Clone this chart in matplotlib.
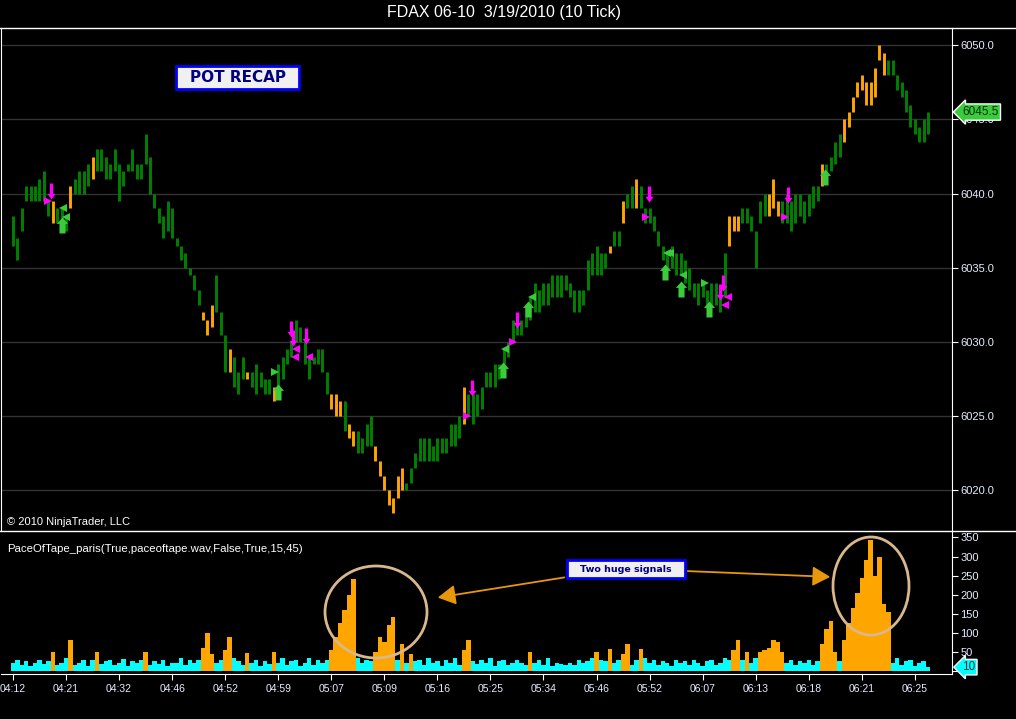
import numpy as np
import matplotlib
matplotlib.use('Agg')
import matplotlib.pyplot as plt
import matplotlib.transforms as mtransforms
from matplotlib.path import Path
from matplotlib.patches import Ellipse, Rectangle, FancyArrowPatch
from matplotlib.lines import Line2D

plt.rcParams['font.family'] = ['Liberation Sans', 'DejaVu Sans']

# ---- data: 10 tick bars ----
time_labels = ['04:12', '04:21', '04:32', '04:46', '04:52', '04:59', '05:07', '05:09', '05:16',
               '05:25', '05:34', '05:46', '05:52', '06:07', '06:13', '06:18', '06:21', '06:25']

low = [6036.5, 6035.5, 6037.5, 6039.5, 6039.5, 6039.5, 6039.5, 6039.5, 6038.5, 6038,
       6038, 6038, 6037.5, 6039, 6040, 6040, 6040, 6040.5, 6041, 6041.5,
       6041.5, 6041, 6041, 6041.5, 6039.5, 6040.5, 6041.5, 6041.5, 6041, 6041,
       6042, 6040, 6039, 6038, 6037, 6037.5, 6037, 6036.5, 6035.5, 6035,
       6034.5, 6033.5, 6032.5, 6031.5, 6030.5, 6031, 6032, 6030.5, 6028, 6028,
       6027, 6026.5, 6027.5, 6027.5, 6027, 6026.5, 6027, 6026.5, 6026.5, 6026,
       6027, 6027.5, 6028.5, 6029, 6030, 6030, 6028.5, 6027.5, 6028.5, 6028.5,
       6028, 6026.5, 6025.5, 6025, 6025, 6024, 6023.5, 6023, 6022.5, 6022.5,
       6023, 6023, 6022, 6021, 6020, 6019, 6018.5, 6019.5, 6020, 6020,
       6020.5, 6021.5, 6022, 6022, 6022, 6022, 6022, 6022.5, 6022.5, 6023,
       6023, 6023.5, 6024.5, 6025, 6024.5, 6025, 6025.5, 6027, 6027, 6027,
       6027.5, 6028.5, 6029, 6030, 6030.5, 6030.5, 6031, 6031.5, 6032, 6032,
       6032.5, 6032.5, 6033, 6033, 6033, 6033.5, 6033, 6032, 6032, 6032.5,
       6033.5, 6034.5, 6034.5, 6034.5, 6035, 6036, 6036.5, 6036.5, 6038, 6039,
       6039, 6039, 6039, 6038, 6038, 6037.5, 6036.5, 6035.5, 6035, 6035,
       6034.5, 6034.5, 6034, 6033.5, 6033, 6032.5, 6033, 6032.5, 6032.5, 6032.5,
       6032, 6033, 6036.5, 6037.5, 6037.5, 6038, 6038, 6037.5, 6035, 6038,
       6038.5, 6038.5, 6039, 6038.5, 6038, 6038, 6037.5, 6038, 6038.5, 6038,
       6038.5, 6039, 6039.5, 6040.5, 6041, 6041.5, 6042, 6042.5, 6043.5, 6044.5,
       6045.5, 6046.5, 6047, 6046, 6046, 6046.5, 6049, 6048, 6048, 6048,
       6047, 6046.5, 6045.5, 6044.5, 6044, 6043.5, 6043.5, 6044]

high = [6038.5, 6037, 6039, 6040.5, 6040.5, 6040.5, 6041, 6041.5, 6039.5, 6039.5,
        6039, 6039, 6038.5, 6040.5, 6041, 6041.5, 6041.5, 6042, 6042.5, 6043,
        6043, 6042.5, 6042, 6043, 6042, 6041.5, 6042, 6043, 6042, 6042,
        6044, 6042.5, 6040, 6039, 6038.5, 6039.5, 6039, 6037, 6036.5, 6036,
        6035, 6034.5, 6033.5, 6032, 6031.5, 6032.5, 6034.5, 6032, 6030.5, 6029.5,
        6029, 6028, 6029, 6028, 6028, 6028.5, 6028, 6027.5, 6027.5, 6027,
        6028.5, 6029, 6029.5, 6030, 6031.5, 6031, 6030, 6029, 6029, 6029.5,
        6029.5, 6028, 6026.5, 6026.5, 6026, 6026, 6024.5, 6024, 6024, 6023.5,
        6024.5, 6025, 6023, 6022, 6021, 6020, 6019.5, 6021, 6021.5, 6020.5,
        6021.5, 6022.5, 6023.5, 6023.5, 6023.5, 6023, 6023.5, 6023.5, 6023.5, 6024.5,
        6024.5, 6025, 6027, 6026.5, 6026.5, 6026.5, 6027, 6028, 6028, 6028.5,
        6028.5, 6029.5, 6030, 6031.5, 6031.5, 6031.5, 6032.5, 6033, 6034, 6033.5,
        6034, 6034, 6034.5, 6034.5, 6034.5, 6034.5, 6034, 6033.5, 6033.5, 6033.5,
        6035.5, 6036, 6036.5, 6036, 6036, 6036.5, 6037.5, 6037.5, 6039.5, 6040,
        6040.5, 6041, 6040.5, 6039, 6039, 6038.5, 6037.5, 6036.5, 6036, 6036.5,
        6036, 6036, 6035.5, 6035, 6034, 6034, 6034, 6033.5, 6034, 6034,
        6033.5, 6036, 6038.5, 6038.5, 6038.5, 6039, 6039, 6038.5, 6037.5, 6039.5,
        6040, 6040, 6041, 6039.5, 6039.5, 6040, 6039.5, 6040, 6040, 6039.5,
        6040, 6040.5, 6040.5, 6042, 6042, 6042.5, 6043.5, 6044, 6045, 6045.5,
        6046.5, 6047.5, 6048, 6047.5, 6047.5, 6048.5, 6050, 6049.5, 6049, 6049,
        6048, 6047.5, 6047, 6046, 6045, 6044.5, 6045, 6045.5]

# bars painted orange (pace of tape active)
orange_bars = [9, 13, 18, 43, 44, 45, 49, 53, 59, 72, 73, 74, 76, 77, 82, 83, 84, 85, 86, 87, 88,
               102, 135, 138, 141, 162, 163, 164, 171, 172, 173, 183,
               188, 189, 190, 191, 192, 193, 194, 195, 196, 197]

last_price = 6045.5

# PaceOfTape indicator
pace = [20, 30, 15, 25, 12, 20, 30, 18, 25, 50,
        15, 22, 35, 80, 15, 20, 28, 12, 30, 50,
        18, 25, 30, 15, 20, 32, 12, 25, 20, 30,
        50, 15, 25, 18, 30, 12, 22, 20, 35, 15,
        28, 20, 30, 60, 100, 45, 20, 30, 55, 90,
        35, 25, 15, 48, 20, 30, 12, 25, 18, 50,
        20, 35, 15, 25, 30, 12, 20, 35, 15, 28,
        20, 30, 55, 90, 125, 160, 200, 240, 35, 20,
        30, 25, 50, 90, 75, 120, 142, 30, 70, 20,
        45, 25, 30, 15, 35, 20, 25, 12, 30, 20,
        35, 15, 55, 80, 25, 18, 30, 20, 35, 12,
        25, 30, 15, 20, 30, 22, 15, 50, 20, 30,
        15, 35, 12, 20, 18, 15, 22, 15, 30, 20,
        25, 35, 50, 30, 25, 58, 20, 30, 45, 70,
        15, 30, 58, 35, 20, 30, 15, 25, 20, 12,
        30, 20, 25, 15, 28, 20, 12, 25, 30, 15,
        22, 35, 30, 55, 80, 30, 50, 20, 35, 50,
        55, 60, 80, 75, 50, 20, 30, 15, 25, 20,
        30, 15, 25, 70, 110, 130, 50, 25, 80, 125,
        165, 205, 245, 290, 343, 250, 300, 175, 155, 20,
        35, 15, 25, 30, 12, 20, 25, 10]
pace_threshold = 45
last_pace = 10

# signal markers (bar index, price)
pink_down = [(8.6, 6040.2), (63.0, 6030.9), (63.3, 6030.3), (66.3, 6030.4), (103.8, 6026.9),
             (114.0, 6031.5), (143.9, 6040.0), (160.0, 6033.4), (160.6, 6034.0), (175.3, 6039.9)]
pink_right = [(7.9, 6039.5), (102.7, 6025.0), (113.1, 6030.0), (143.2, 6038.4), (174.7, 6038.4)]
pink_left = [(64.0, 6029.5), (63.8, 6029.0), (67.0, 6029.0), (161.1, 6032.5), (161.8, 6033.0)]
green_up = [(11.1, 6037.9), (59.9, 6026.6), (110.9, 6028.1), (116.5, 6032.2),
            (147.5, 6034.7), (151.1, 6033.6), (157.5, 6032.2), (183.7, 6041.1)]
green_left = [(11.3, 6039.0), (12.0, 6038.4), (111.3, 6029.5), (117.4, 6033.0),
              (148.0, 6036.0), (148.6, 6036.0), (151.6, 6034.5)]
green_right = [(59.3, 6028.0), (156.6, 6034.0)]

# ---- figure ----
W, H = 1016, 719
GREEN = '#008000'
ORANGE = '#FFA500'
CYAN = '#00FFFF'
PINK = '#FF00FF'
LIME = '#3CCB3C'
LABEL = '#E4EEFF'


def fx(px):
    return px / W


def fy(py):
    return 1 - py / H


fig = plt.figure(figsize=(W / 100, H / 100), dpi=100, facecolor='black')
ax = fig.add_axes([fx(1), fy(531), fx(952) - fx(1), fy(27.5) - fy(531)])
ax2 = fig.add_axes([fx(1), fy(674), fx(952) - fx(1), fy(531) - fy(674)], sharex=ax)

for a in (ax, ax2):
    a.set_facecolor('black')
    for s in a.spines.values():
        s.set_visible(False)
    a.spines['right'].set_visible(True)
    a.spines['right'].set_color('white')
ax.spines['left'].set_visible(True)
ax.spines['left'].set_color('white')
ax2.spines['bottom'].set_visible(True)
ax2.spines['bottom'].set_color('white')

xs = np.arange(len(low))
bar_cols = [ORANGE if i in orange_bars else GREEN for i in xs]
ax.vlines(xs, low, high, colors=bar_cols, lw=2.1)

# custom block arrows
down_arrow = Path([(-0.2, 1), (0.2, 1), (0.2, -0.3), (0.5, -0.3), (0, -1), (-0.5, -0.3),
                   (-0.2, -0.3), (-0.2, 1)], closed=True)
up_arrow = Path([(-0.38, -1), (0.38, -1), (0.38, 0.2), (0.7, 0.2), (0, 1), (-0.7, 0.2),
                 (-0.38, 0.2), (-0.38, -1)], closed=True)


def put(points, marker, color, size):
    px = [p[0] for p in points]
    py = [p[1] for p in points]
    ax.plot(px, py, ls='none', marker=marker, color=color, markersize=size,
            markeredgewidth=0, zorder=5)


put(pink_down, down_arrow, PINK, 11.5)
put(pink_right, '>', PINK, 6)
put(pink_left, '<', PINK, 6)
put(green_up, up_arrow, LIME, 11.5)
put(green_left, '<', LIME, 6)
put(green_right, '>', LIME, 6)

ax.set_xlim(-2.7, 212.4)
ax.set_ylim(6017.26, 6051.2)
ax.yaxis.tick_right()
ax.set_yticks(np.arange(6020, 6051, 5))
ax.set_yticklabels([f'{v:.1f}' for v in np.arange(6020, 6051, 5)])
ax.tick_params(axis='y', colors='white', labelcolor=LABEL, labelsize=8, length=4, pad=2)
ax.tick_params(axis='x', bottom=False, labelbottom=False)
ax.grid(axis='y', color='#333333', lw=1)
ax.set_axisbelow(True)

# indicator panel
pace_cols = [ORANGE if v >= pace_threshold else CYAN for v in pace]
ax2.bar(xs, pace, width=1.0, color=pace_cols, linewidth=0)
ax2.set_ylim(-8, 367)
ax2.yaxis.tick_right()
ax2.set_yticks(np.arange(0, 351, 50))
ax2.tick_params(axis='y', colors='white', labelcolor=LABEL, labelsize=8, length=4, pad=2)
ax2.set_xticks(np.arange(0, 12 * len(time_labels), 12))
ax2.set_xticklabels(time_labels)
ax2.tick_params(axis='x', colors='white', labelcolor=LABEL, labelsize=7.5, length=4, pad=3)

# frame lines across whole width
fig.add_artist(Line2D([0, 1], [fy(27.5), fy(27.5)], color='white', lw=1))
fig.add_artist(Line2D([0, 1], [fy(531), fy(531)], color='white', lw=1))

# last value labels
tr = mtransforms.blended_transform_factory(fig.transFigure, ax.transData)
ax.text(fx(962), last_price, f'{last_price:.1f}', transform=tr, ha='left', va='center',
        fontsize=8.5, color='#003300', clip_on=False, zorder=10,
        bbox=dict(boxstyle='larrow,pad=0.18', fc=LIME, ec='white', lw=1))
tr2 = mtransforms.blended_transform_factory(fig.transFigure, ax2.transData)
ax2.text(fx(962), last_pace, f'{last_pace}', transform=tr2, ha='left', va='center',
         fontsize=8.5, color='#003333', clip_on=False, zorder=10,
         bbox=dict(boxstyle='larrow,pad=0.15', fc=CYAN, ec='white', lw=1))

# texts
fig.text(fx(504), fy(13), 'FDAX 06-10  3/19/2010 (10 Tick)', color='white', fontsize=11.5,
         ha='center', va='center')
fig.text(fx(7), fy(522), '\u00a9 2010 NinjaTrader, LLC', color='white', fontsize=8,
         ha='left', va='center')
fig.text(fx(7), fy(549), 'PaceOfTape_paris(True,paceoftape.wav,False,True,15,45)', color='white',
         fontsize=8.2, ha='left', va='center')

# POT RECAP box
fig.add_artist(Rectangle((fx(176), fy(89)), fx(123), fy(0) - fy(23), transform=fig.transFigure,
                         fc='#F0F0F0', ec='#0000FF', lw=2))
fig.text(fx(237.5), fy(77.5), 'POT RECAP', color='#000080', fontsize=11, fontweight='bold',
         family='DejaVu Sans', ha='center', va='center')

# Two huge signals box + arrows
fig.add_artist(FancyArrowPatch((fx(567), fy(577)), (fx(435), fy(598)), transform=fig.transFigure,
                               arrowstyle='-|>,head_length=0.9,head_width=0.5', mutation_scale=12,
                               color='#E8960A', lw=1.3))
fig.add_artist(FancyArrowPatch((fx(685), fy(571)), (fx(833), fy(577)), transform=fig.transFigure,
                               arrowstyle='-|>,head_length=0.9,head_width=0.5', mutation_scale=12,
                               color='#E8960A', lw=1.3))
fig.add_artist(Rectangle((fx(567), fy(578)), fx(118), fy(0) - fy(18), transform=fig.transFigure,
                         fc='#F0F0F0', ec='#0000FF', lw=2))
fig.text(fx(626), fy(569), 'Two huge signals', color='#000080', fontsize=6.8, fontweight='bold',
         family='DejaVu Sans', ha='center', va='center')

# ellipses around signals
fig.add_artist(Ellipse((fx(376), fy(612)), fx(102), fy(0) - fy(92), transform=fig.transFigure,
                       fill=False, ec='#D8B88C', lw=2))
fig.add_artist(Ellipse((fx(871), fy(586)), fx(76), fy(0) - fy(98), transform=fig.transFigure,
                       fill=False, ec='#D8B88C', lw=2))

fig.savefig('out.png', dpi=100, facecolor='black')
